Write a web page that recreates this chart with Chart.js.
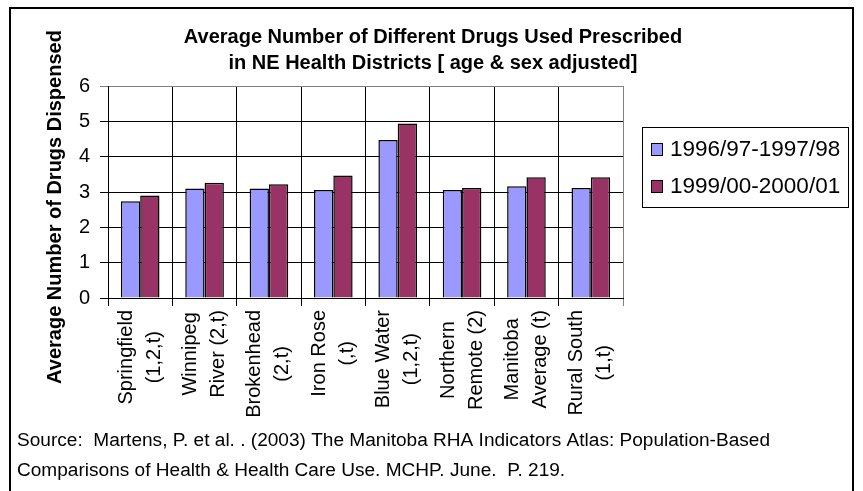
<!DOCTYPE html>
<html>
<head>
<meta charset="utf-8">
<title>Average Number of Different Drugs</title>
<script src="https://cdn.jsdelivr.net/npm/chart.js@4.4.1/dist/chart.umd.min.js"></script>
<style>
    html, body { margin: 0; padding: 0; background: #fff; }
    #chart { display: block; }
</style>
</head>
<body>
<canvas id="chart" width="863" height="491"></canvas>
<script>
// Chart data
const districts = [
    ['Springfield', '(1,2,t)'],
    ['Winnipeg', 'River (2,t)'],
    ['Brokenhead', '(2,t)'],
    ['Iron Rose', '(,t)'],
    ['Blue Water', '(1,2,t)'],
    ['Northern', 'Remote (2)'],
    ['Manitoba', 'Average (t)'],
    ['Rural South', '(1,t)']
];
const period1 = [2.74, 3.10, 3.10, 3.06, 4.47, 3.06, 3.16, 3.11];
const period2 = [2.90, 3.26, 3.22, 3.47, 4.94, 3.11, 3.42, 3.42];
const seriesNames = ['1996/97-1997/98', '1999/00-2000/01'];
const seriesColors = ['#9999FF', '#993366'];
const yMin = 0;
const yMax = 6;
const yStep = 1;
const titleLines = [
    'Average Number of Different Drugs Used Prescribed',
    'in NE Health Districts [ age & sex adjusted]'
];
const yTitle = 'Average Number of Drugs Dispensed';
const sourceLines = [
    'Source:  Martens, P. et al. . (2003) The Manitoba RHA Indicators Atlas: Population-Based',
    'Comparisons of Health & Health Care Use. MCHP. June.  P. 219.'
];

const FONT = '"Liberation Sans", Arial, Helvetica, sans-serif';

// Everything that Excel drew around the plot area
const decorations = {
    id: 'decorations',
    afterDraw(chart) {
        const ctx = chart.ctx;
        const area = chart.chartArea;
        const xScale = chart.scales.x;

        ctx.save();
        ctx.fillStyle = '#000';
        ctx.strokeStyle = '#000';

        // outer frame
        ctx.lineWidth = 2;
        ctx.strokeRect(10, 8, 843, 520);

        // title
        ctx.font = 'bold 20px ' + FONT;
        ctx.textAlign = 'center';
        ctx.textBaseline = 'middle';
        titleLines.forEach((line, i) => ctx.fillText(line, 433, 37 + i * 26));

        // y axis title
        ctx.save();
        ctx.translate(55, 207);
        ctx.rotate(-Math.PI / 2);
        ctx.fillText(yTitle, 0, 0);
        ctx.restore();

        // category labels, rotated, lines centred on each other
        ctx.font = '20px ' + FONT;
        const lineH = 28;
        districts.forEach((lines, i) => {
            const x = xScale.getPixelForValue(i);
            const maxW = Math.max(...lines.map(l => ctx.measureText(l).width));
            const yc = area.bottom + 12 + maxW / 2;
            lines.forEach((line, j) => {
                const off = (j - (lines.length - 1) / 2) * lineH;
                ctx.save();
                ctx.translate(x + off, yc);
                ctx.rotate(-Math.PI / 2);
                ctx.fillText(line, 0, 0);
                ctx.restore();
            });
        });

        // legend box
        ctx.lineWidth = 1;
        ctx.strokeRect(642.5, 127.5, 206, 80);
        ctx.font = '22.5px ' + FONT;
        ctx.textAlign = 'left';
        chart.data.datasets.forEach((ds, i) => {
            const cy = 149 + i * 37;
            ctx.fillStyle = ds.backgroundColor;
            ctx.fillRect(651, cy - 6, 11, 12);
            ctx.strokeRect(651.5, cy - 5.5, 11, 12);
            ctx.fillStyle = '#000';
            ctx.fillText(ds.label, 670, cy + 1);
        });

        // source note, squeezed like the original
        ctx.font = '18px ' + FONT;
        const w = ctx.measureText(sourceLines[0]).width;
        const sx = 753 / w;
        sourceLines.forEach((line, i) => {
            ctx.save();
            ctx.translate(17, 441 + i * 30);
            ctx.scale(sx, 1);
            ctx.fillText(line, 0, 0);
            ctx.restore();
        });

        ctx.restore();
    }
};

const ctx = document.getElementById('chart').getContext('2d');
new Chart(ctx, {
    type: 'bar',
    data: {
        labels: districts.map(d => d.join(' ')),
        datasets: [
            {
                label: seriesNames[0],
                data: period1,
                backgroundColor: seriesColors[0],
                borderColor: '#000',
                borderWidth: 1.5
            },
            {
                label: seriesNames[1],
                data: period2,
                backgroundColor: seriesColors[1],
                borderColor: '#000',
                borderWidth: 1.5
            }
        ]
    },
    options: {
        responsive: false,
        animation: false,
        devicePixelRatio: 1,
        layout: {
            padding: { left: 60, right: 240, top: 86, bottom: 185 }
        },
        datasets: {
            bar: { categoryPercentage: 0.6, barPercentage: 1.0 }
        },
        plugins: {
            legend: { display: false },
            title: { display: false },
            tooltip: { enabled: false }
        },
        scales: {
            x: {
                afterFit(scale) { scale.height = 8; },
                ticks: { display: false },
                grid: {
                    offset: true,
                    color: c => (c.tick ? '#000' : '#808080'),
                    lineWidth: 1,
                    tickLength: 8
                },
                border: { display: true, color: '#000', width: 1 }
            },
            y: {
                min: yMin,
                max: yMax,
                afterFit(scale) { scale.width = 48; },
                ticks: {
                    stepSize: yStep,
                    padding: 10,
                    color: '#000',
                    font: { family: FONT, size: 20 }
                },
                grid: {
                    color: c => (c.tick && c.tick.value === yMax ? '#808080' : '#000'),
                    lineWidth: 1,
                    tickLength: 8
                },
                border: { display: true, color: '#000', width: 1 }
            }
        }
    },
    plugins: [decorations]
});
</script>
</body>
</html>
